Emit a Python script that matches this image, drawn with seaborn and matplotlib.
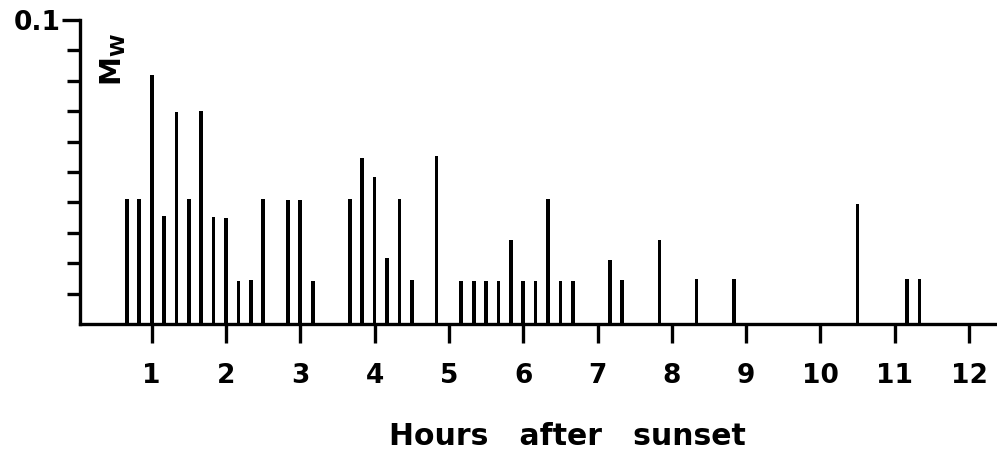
import numpy as np
import pandas as pd
import matplotlib
matplotlib.use("Agg")
import matplotlib.pyplot as plt
import seaborn as sns

# minutes after sunset (10 min bins) and fraction M_W
minutes = [40, 50, 60, 70, 80, 90, 100, 110, 120, 130, 140, 150, 170, 180, 190,
           220, 230, 240, 250, 260, 270, 290, 310, 320, 330, 340, 350, 360, 370,
           380, 390, 400, 430, 440, 470, 500, 530, 630, 670, 680]
mw = [0.0412, 0.0412, 0.0819, 0.0354, 0.0698, 0.0410, 0.0700, 0.0352, 0.0350,
      0.0142, 0.0145, 0.0410, 0.0407, 0.0407, 0.0143,
      0.0410, 0.0545, 0.0483, 0.0217, 0.0410, 0.0145, 0.0552, 0.0142, 0.0143,
      0.0143, 0.0143, 0.0275, 0.0143, 0.0143, 0.0412, 0.0143, 0.0143,
      0.0212, 0.0145, 0.0275, 0.0147, 0.0147, 0.0396, 0.0147, 0.0147]
hour_ticks = list(range(1, 13))
y_ticks = [0.01, 0.02, 0.03, 0.04, 0.05, 0.06, 0.07, 0.08, 0.09, 0.1]
y_ticklabels = [""] * 9 + ["0.1"]

sns.set_style("ticks")
plt.rcParams["font.family"] = ["DejaVu Sans"]
plt.rcParams["mathtext.default"] = "regular"
plt.rcParams["text.color"] = "black"
plt.rcParams["xtick.labelcolor"] = "black"
plt.rcParams["ytick.labelcolor"] = "black"

df = pd.DataFrame({"hours": np.array(minutes) / 60.0, "mw": mw})

fig = plt.figure(figsize=(9.97, 4.53), dpi=100)
ax = fig.add_axes([0.0802, 0.2848, 0.9198, 0.6711])

sns.barplot(data=df, x="hours", y="mw", native_scale=True, width=0.3,
            color="black", saturation=1, errorbar=None, linewidth=0, ax=ax)

ax.set_xlim(0.035, 12.376)
ax.set_ylim(0, 0.1)
ax.set_xticks(hour_ticks)
ax.set_xticklabels([str(h) for h in hour_ticks], fontsize=19, fontweight="bold")
ax.set_yticks(y_ticks)
ax.set_yticklabels(y_ticklabels, fontsize=19, fontweight="bold")
ax.tick_params(axis="x", direction="out", length=14, width=2.4, pad=14,
               color="black", labelcolor="black")
ax.tick_params(axis="y", direction="out", length=9.5, width=2.4, pad=4,
               color="black", labelcolor="black")
# top tick is drawn a little longer in the original
ax.yaxis.get_major_ticks()[-1].tick1line.set_markersize(13)

sns.despine(ax=ax)
for side in ["left", "bottom"]:
    ax.spines[side].set_linewidth(2.4)
    ax.spines[side].set_color("black")

ax.set_xlabel("Hours   after   sunset", fontsize=21.5, fontweight="bold",
              color="black")
ax.xaxis.set_label_coords(0.531, -0.322)
ax.set_ylabel("")
ax.text(0.036, 0.87, "$M_W$", transform=ax.transAxes, rotation=90,
        fontsize=21, fontweight="bold", ha="center", va="center", color="black")

fig.savefig("out.png", dpi=100)
